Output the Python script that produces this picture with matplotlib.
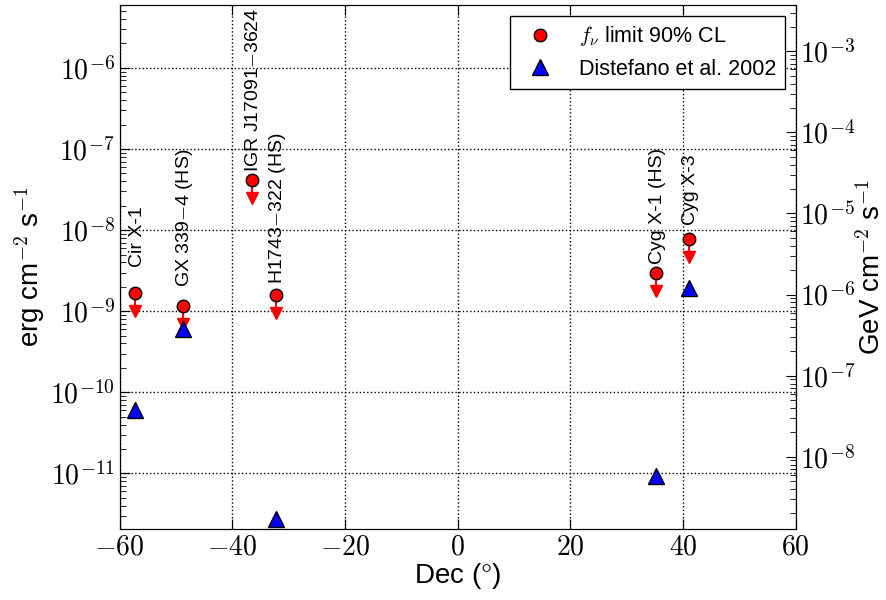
import numpy as np
import matplotlib
matplotlib.use('Agg')
import matplotlib.pyplot as plt
from matplotlib.ticker import FuncFormatter, LogLocator, MultipleLocator

plt.rcParams['font.family'] = ['Liberation Sans', 'DejaVu Sans']
plt.rcParams['mathtext.fontset'] = 'cm'

names = ['Cir X-1', 'GX 339$-$4 (HS)', 'IGR J17091$-$3624', 'H1743$-$322 (HS)', 'Cyg X-1 (HS)', 'Cyg X-3']
dec = [-57.2, -48.8, -36.5, -32.3, 35.2, 41.0]
flux_limit = [1.67e-9, 1.16e-9, 4.1e-8, 1.58e-9, 2.95e-9, 7.7e-9]
flux_distefano = [6.0e-11, 6.1e-10, np.nan, 2.75e-12, 9.2e-12, 1.95e-9]
# gap (pixels) between each limit marker and its label
label_gap = [26, 19, 8, 11, 9, 14]

erg_to_gev = 624.15

fig, ax = plt.subplots(figsize=(8.86, 6.0), dpi=100)
fig.subplots_adjust(left=0.135, right=0.898, top=0.992, bottom=0.118)

lim = np.array(flux_limit)
# upper-limit arrows
ax.vlines(dec, lim * 0.62, lim, color='red', linewidth=1.5, zorder=3)
ax.plot(dec, lim * 0.6, 'v', color='red', mec='red', ms=8, zorder=3)
ax.plot(dec, lim, 'o', color='red', mec='black', ms=9, zorder=4, label=r'$f_\nu$ limit 90% CL')
ax.plot(dec, flux_distefano, '^', color='blue', mec='black', ms=11, zorder=4, label='Distefano et al. 2002')

for x, y, n, g in zip(dec, flux_limit, names, label_gap):
    ax.annotate(n, (x, y), xytext=(2, g), textcoords='offset pixels', rotation=90,
                ha='center', va='bottom', fontsize=14)

ax.set_yscale('log')
ax.set_xlim(-60, 60)
ax.set_ylim(2.05e-12, 6e-6)
ax.xaxis.set_major_locator(MultipleLocator(20))
ax.xaxis.set_major_formatter(FuncFormatter(lambda v, p: r'$%d$' % v))
ax.yaxis.set_major_locator(LogLocator(base=10))
ax.yaxis.set_major_formatter(FuncFormatter(lambda v, p: r'$10^{%d}$' % round(np.log10(v))))
ax.tick_params(which='both', direction='in', top=True, labelsize=20)
ax.tick_params(which='major', length=7)
ax.tick_params(which='minor', length=4)
ax.grid(True, which='major', color='black', linestyle=':', linewidth=1)
ax.set_xlabel(r'Dec ($\degree$)', fontsize=20, labelpad=1)
ax.set_ylabel(r'erg cm$^{-2}$ s$^{-1}$', fontsize=20, labelpad=2)

ax2 = ax.twinx()
ax2.set_yscale('log')
ax2.set_ylim(2.05e-12 * erg_to_gev, 6e-6 * erg_to_gev)
ax2.yaxis.set_major_formatter(FuncFormatter(lambda v, p: r'$10^{%d}$' % round(np.log10(v))))
ax2.tick_params(which='both', direction='in', labelsize=20)
ax2.tick_params(which='major', length=7)
ax2.tick_params(which='minor', length=4)
ax2.set_ylabel(r'GeV cm$^{-2}$ s$^{-1}$', fontsize=20, labelpad=1)

leg = ax.legend(loc='upper right', numpoints=1, fontsize=15.5, fancybox=False, framealpha=1,
                edgecolor='black', borderaxespad=0.5, borderpad=0.4, handletextpad=0.8)
leg.get_frame().set_linewidth(1)

plt.savefig('out.png', dpi=100)
